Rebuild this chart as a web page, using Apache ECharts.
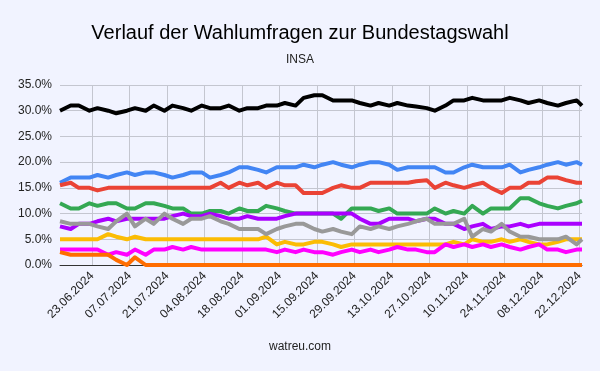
<!DOCTYPE html>
<html>
<head>
<meta charset="utf-8">
<script src="https://cdn.jsdelivr.net/npm/echarts@6/dist/echarts.min.js"></script>
<style>
html,body{margin:0;padding:0;background:#f1f3ff;}
#chart{width:600px;height:371px;}
</style>
</head>
<body>
<div id="chart"></div>
<script>
// Poll dates (INSA)
var pollDates = ['11.06.2024','15.06.2024','18.06.2024','22.06.2024','25.06.2024','29.06.2024','02.07.2024','06.07.2024','09.07.2024','13.07.2024',
 '16.07.2024','20.07.2024','23.07.2024','27.07.2024','30.07.2024','03.08.2024','06.08.2024','10.08.2024','13.08.2024','17.08.2024',
 '20.08.2024','24.08.2024','27.08.2024','31.08.2024','03.09.2024','07.09.2024','10.09.2024','14.09.2024','17.09.2024','21.09.2024',
 '24.09.2024','28.09.2024','01.10.2024','05.10.2024','08.10.2024','12.10.2024','15.10.2024','19.10.2024','22.10.2024','26.10.2024',
 '29.10.2024','02.11.2024','05.11.2024','09.11.2024','12.11.2024','16.11.2024','19.11.2024','23.11.2024','26.11.2024','30.11.2024',
 '03.12.2024','07.12.2024','10.12.2024','14.12.2024','17.12.2024','21.12.2024','23.12.2024'];

var union = [30,31,31,30,30.5,30,29.5,30,30.5,30,
 31,30,31,30.5,30,31,30.5,30.5,31,30,
 30.5,30.5,31,31,31.5,31,32.5,33,33,32,
 32,32,31.5,31,31.5,31,31.5,31,30.8,30.5,
 30,31,32,32,32.5,32,32,32,32.5,32,
 31.5,32,31.5,31,31.5,32,31];
var afd = [16,17,17,17,17.5,17,17.5,18,17.5,18,
 18,17.5,17,17.5,18,18,17,17.5,18,19,
 19,18.5,18,19,19,19,19.5,19,19.5,20,
 19.5,19,19.5,20,20,19.5,18.5,19,19,19,
 19,18,18,19,19.5,19,19,19,19.5,18,
 18.5,19,19.5,20,19.5,20,19.5];
var spd = [15.5,16,15,15,14.5,15,15,15,15,15,
 15,15,15,15,15,15,15,16,15,16,
 15.5,16,15,16,15.5,15.5,14,14,14,15,
 15.5,15,15,16,16,16,16,16,16.3,16.5,
 15,16,15.5,15,15.5,16,15,14,15,15,
 16,16,17,17,16.5,16,16];
var gruene = [12,11,11,12,11.5,12,12,11,11,12,
 12,11.5,11,11,10,10,10.5,10.5,10,11,
 10.5,10.5,11.5,11,10.5,10,10,10,10,10,
 9,11,11,11,10.5,11,10,10,10,10,
 11,10,10.5,10,11.5,10,11,11,11,13,
 13,12,11.5,11,11.5,12,12.5];
var bsw = [7.5,7,8,8,8.5,9,8.5,9,9,9,
 9,9,9.5,10,9.5,9.5,10,9.5,9,9,
 9.5,9,9,9,9.5,10,10,10,10,10,
 10,10,9,8,8,9,9,9,8.5,9,
 9,8,8,7,7.5,8,7,7.5,7.5,8,
 7.5,8,8,8,8,8,8];
var sonstige = [8.5,8,8,8,7.5,7,8.5,10,7.5,9,
 8,10,9,8,9,9,9.5,8.5,8,7,
 7,7,6,7,7.5,8,8,7,6.5,7,
 6.5,6,7.5,7,7.5,7,7.5,8,8.5,9,
 8,8,8,9,5.5,7,6.5,8,6.5,5.5,
 5.5,5,5,5,5.5,4,5];
var fdp = [5,5,5,5,5,6,5.5,5,5.5,5,
 5,5,5,5,5,5,5,5,5,5,
 5,5,5.5,4,4.5,4,4,4.5,4.5,4,
 3.5,4,4,4,4,4,4,4,4,4,
 4,4,4.5,4,5,4.5,4.5,5,4.5,5,
 4.5,4,4,4.5,5,5,5];
var linke = [3,3,3,3,3,2,2.5,2,3,2,
 3,3,3.5,3,3.5,3,3,3,3,3,
 3,3,3,2.5,3,2.5,3,2.5,2.5,2,
 2.5,3,2.5,3,2.5,3,3.5,3,3,2.5,
 2.5,4,3.5,4,3.5,4,3.5,4,3.5,3,
 3.5,4,3,3,2.5,3,3];
var fw = [2.5,2,2,2,2,2,1,0,1.5,0,
 0,0,0,0,0,0,0,0,0,0,
 0,0,0,0,0,0,0,0,0,0,
 0,0,0,0,0,0,0,0,0,0,
 0,0,0,0,0,0,0,0,0,0,
 0,0,0,0,0,0,0];

var yTicks = [0,5,10,15,20,25,30,35];
var firstLabelDate = '23.06.2024';
var labelStepDays = 14;

// build day-by-day category axis from first to last poll date
function parseD(s){var p=s.split('.');return Date.UTC(+p[2],+p[1]-1,+p[0]);}
function fmtD(t){var d=new Date(t);var dd=('0'+d.getUTCDate()).slice(-2),mm=('0'+(d.getUTCMonth()+1)).slice(-2);return dd+'.'+mm+'.'+d.getUTCFullYear();}
var dayAxis=[];
for(var t=parseD(pollDates[0]);t<=parseD(pollDates[pollDates.length-1]);t+=86400000){dayAxis.push(fmtD(t));}
var labelOffset = dayAxis.indexOf(firstLabelDate);
function showIdx(i){return i>=labelOffset && (i-labelOffset)%labelStepDays===0;}

function mk(name,vals,color){
  return {name:name,type:'line',showSymbol:false,symbol:'none',smooth:false,
    lineStyle:{width:4,color:color,join:'round'},itemStyle:{color:color},
    data:pollDates.map(function(d,i){return [d,vals[i]];}),z:2};
}

var chart = echarts.init(document.getElementById('chart'),null,{renderer:'canvas'});
chart.setOption({
  backgroundColor:'#f1f3ff',
  animation:false,
  textStyle:{fontFamily:'Liberation Sans, Arial, sans-serif'},
  title:[
    {text:'Verlauf der Wahlumfragen zur Bundestagswahl',left:'center',top:18,
     textStyle:{fontSize:20,fontWeight:'normal',color:'#000',fontFamily:'Liberation Sans'}},
    {text:'INSA',left:'center',top:49,textStyle:{fontSize:12,fontWeight:'normal',color:'#222',fontFamily:'Liberation Sans'}},
    {text:'watreu.com',left:'center',top:336,textStyle:{fontSize:12,fontWeight:'normal',color:'#222',fontFamily:'Liberation Sans'}}
  ],
  grid:{left:60,right:18,top:85,bottom:106,containLabel:false},
  xAxis:{type:'category',data:dayAxis,boundaryGap:false,
    axisLine:{show:true,onZero:true,lineStyle:{color:'#333',width:1}},
    axisTick:{show:false},
    axisLabel:{interval:function(i){return showIdx(i);},rotate:45,margin:9,fontSize:12,color:'#222',fontFamily:'Liberation Sans'},
    splitLine:{show:true,interval:function(i){return showIdx(i);},lineStyle:{color:'#c4c6d0',width:1}}
  },
  yAxis:{type:'value',min:yTicks[0],max:yTicks[yTicks.length-1],interval:5,
    axisLine:{show:false},axisTick:{show:false},
    axisLabel:{formatter:function(v){return v.toFixed(1)+'%';},fontSize:12,color:'#222',margin:8,fontFamily:'Liberation Sans'},
    splitLine:{show:true,lineStyle:{color:'#c4c6d0',width:1}}
  },
  series:[
    mk('CDU/CSU',union,'#000000'),
    mk('AfD',afd,'#4285f4'),
    mk('SPD',spd,'#ea4335'),
    mk('Grüne',gruene,'#34a853'),
    mk('FDP',fdp,'#fbbc04'),
    mk('Die Linke',linke,'#ff00ff'),
    mk('Freie Wähler',fw,'#ff6d01'),
    mk('BSW',bsw,'#aa00ff'),
    mk('Sonstige',sonstige,'#999999')
  ]
});
</script>
</body>
</html>
